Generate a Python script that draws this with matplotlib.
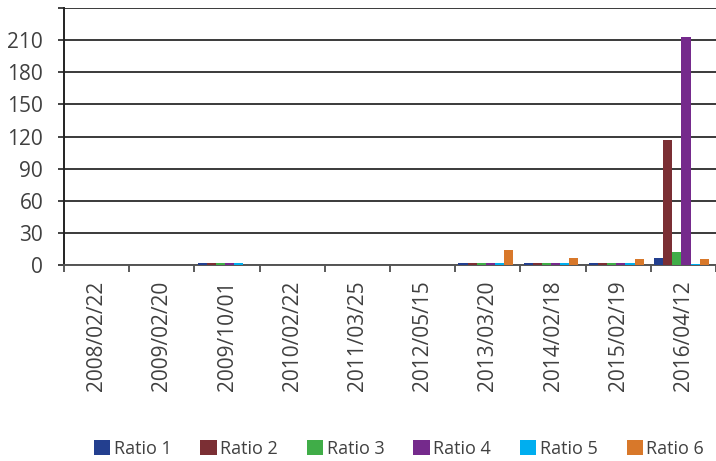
import matplotlib.pyplot as plt
import numpy as np

plt.rcParams['font.family'] = ['Open Sans', 'DejaVu Sans']

dates = ['2008/02/22', '2009/02/20', '2009/10/01', '2010/02/22', '2011/03/25',
         '2012/05/15', '2013/03/20', '2014/02/18', '2015/02/19', '2016/04/12']
ratio_1 = [0, 0, 1.5, 0, 0, 0, 1.5, 1.5, 1.5, 6.5]
ratio_2 = [0, 0, 1.5, 0, 0, 0, 1.5, 1.5, 1.5, 116.5]
ratio_3 = [0, 0, 1.5, 0, 0, 0, 1.5, 1.5, 1.5, 12]
ratio_4 = [0, 0, 1.5, 0, 0, 0, 1.5, 1.5, 1.5, 213]
ratio_5 = [0, 0, 1.5, 0, 0, 0, 1.5, 1.5, 1.5, 1.0]
ratio_6 = [0, 0, 0, 0, 0, 0, 14, 6.5, 5.5, 5.5]

series = [ratio_1, ratio_2, ratio_3, ratio_4, ratio_5, ratio_6]
names = ['Ratio 1', 'Ratio 2', 'Ratio 3', 'Ratio 4', 'Ratio 5', 'Ratio 6']
colors = ['#233f8f', '#7b2f34', '#40ad48', '#752a8c', '#00aeef', '#d8782a']

txt = '#404040'

fig = plt.figure(figsize=(7.16, 4.61), dpi=100)
ax = fig.add_axes([64/716, 196/461, 652/716, 257/461])

x = np.arange(len(dates))
w = 0.14
for i, (vals, name, c) in enumerate(zip(series, names, colors)):
    ax.bar(x - 0.03 + (i - 2.5) * w, vals, width=w, color=c, label=name, zorder=3)

ax.set_xlim(-0.5, len(dates) - 0.5)
ax.set_ylim(0, 240)
ax.set_yticks(np.arange(0, 241, 30))
ax.set_yticklabels([str(v) if v < 240 else '' for v in range(0, 241, 30)])
ax.yaxis.grid(True, color='#3a3a3a', lw=1.4, zorder=1)

ax.set_xticks(x)
ax.set_xticklabels(dates, rotation=90)
ax.set_xticks(np.arange(-0.5, len(dates)), minor=True)
ax.tick_params(axis='x', which='major', length=0, pad=11, labelsize=15, labelcolor=txt)
ax.tick_params(axis='x', which='minor', length=5, width=1.2, color='#404040')
ax.tick_params(axis='y', length=4, width=1.2, color='#222222', pad=11, labelsize=15, labelcolor=txt)

for s in ['top', 'right']:
    ax.spines[s].set_visible(False)
ax.spines['left'].set_color('#222222')
ax.spines['left'].set_linewidth(1.4)
ax.spines['bottom'].set_color('#555555')
ax.spines['bottom'].set_linewidth(1.4)

fig.legend(loc='center', bbox_to_anchor=(399/716, 1 - 449/461), ncol=6, frameon=False,
           handlelength=0.9, handleheight=0.9, handletextpad=0.2, columnspacing=1.6,
           prop={'size': 13}, labelcolor=txt)

fig.savefig('out.png', dpi=100)
